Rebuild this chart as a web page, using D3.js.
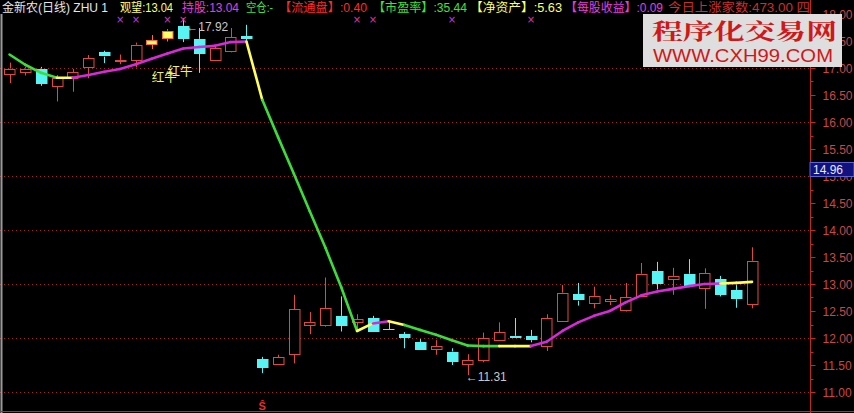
<!DOCTYPE html>
<html><head><meta charset="utf-8">
<script src="https://cdn.jsdelivr.net/npm/d3@7"></script>
<style>body{margin:0;background:#000;overflow:hidden}svg{display:block}</style>
</head><body>
<script>
// ---------- data ----------
const openP  = [16.90,16.93,16.99,16.67,16.81,17.02,17.29,17.14,17.16,17.44,17.56,17.78,17.54,17.15,17.31,17.59,
                11.61,11.51,11.70,12.25,12.23,12.41,12.30,12.37,12.16,12.07,11.92,11.79,11.75,11.51,11.59,11.97,
                12.04,12.04,11.85,12.33,12.81,12.65,12.69,12.51,12.78,13.24,13.09,13.19,12.92,13.09,12.89,12.64];
const highP  = [17.10,17.02,17.02,16.87,16.98,17.24,17.32,17.25,17.47,17.61,17.72,17.92,17.74,17.40,17.74,17.80,
                11.65,11.69,12.80,12.48,13.12,12.77,12.44,12.41,12.30,12.11,11.98,11.96,11.81,11.70,12.10,12.29,
                12.37,12.15,12.44,12.98,13.02,12.95,12.80,13.02,13.39,13.41,13.30,13.46,13.29,13.15,12.98,13.68];
const lowP   = [16.72,16.86,16.67,16.38,16.56,16.81,17.09,17.07,17.01,17.35,17.49,17.48,16.91,17.13,17.29,17.48,
                11.35,11.51,11.53,12.07,12.21,12.12,12.14,12.12,12.14,11.81,11.78,11.69,11.50,11.31,11.55,11.96,
                12.00,11.92,11.76,12.32,12.60,12.55,12.61,12.49,12.76,12.90,12.80,12.96,12.54,12.77,12.56,12.55];
const closeP = [16.99,16.99,16.72,16.81,16.92,17.18,17.21,17.15,17.43,17.51,17.69,17.54,17.26,17.37,17.57,17.54,
                11.45,11.64,12.53,12.30,12.55,12.23,12.35,12.12,12.14,12.00,11.78,11.85,11.56,11.59,12.00,12.11,
                12.00,11.96,12.37,12.84,12.69,12.78,12.72,12.75,13.19,13.00,13.15,12.96,13.20,12.80,12.72,13.43];
const zhu    = [17.25,17.06,16.91,16.82,16.82,16.87,16.93,16.98,17.07,17.17,17.27,17.36,17.39,17.41,17.48,17.49,
                16.41,15.72,15.04,14.35,13.67,12.94,12.13,
                12.27,12.31,12.24,12.15,12.06,11.96,11.86,11.85,11.85,11.85,11.85,
                11.93,12.13,12.29,12.41,12.50,12.66,12.79,12.86,12.91,12.96,13.00,13.01,13.02,13.04];
// state of the ZHU line for each segment ending at index i (G = 空仓, Y = 观望, M = 持股)
const zhuState = ["-","G","G","G","Y","M","M","M","M","M","M","M","M","M","M","M",
                  "Y","G","G","G","G","G","G","Y","M","Y","G","G","G","G","G","G",
                  "Y","Y","M","M","M","M","M","M","M","M","M","M","M","M","Y","Y"];
const signalCandles = [9,10];
const crossMarks = [7,8,10,11,22,23,28,33];
const hongNiuIdx = [9,10];
const hongNiuPrice = [16.75,16.86];
const dollarIdx = [16];
const yMajor = [11,11.5,12,12.5,13,13.5,14,14.5,15,15.5,16,16.5,17,17.5,18];
const yGrid = [11,12,13,14,15,16,17];
const highLabel = {idx:11, value:17.92};
const lowLabel = {idx:29, value:11.31};
const cursorPrice = 14.96;
const headerText = ["金新农(日线) ZHU 1","观望:13.04","持股:13.04","空仓:-","【流通盘】:0.40",
                    "【市盈率】:35.44","【净资产】:5.63","【每股收益】:0.09","今日上涨家数:473.00 四"];
const headerColor = ["#e6e6e6","#ffff66","#e040e0","#40e040","#ff2a2a","#40e040","#ffff66","#e040e0","#c83030"];

// ---------- drawing ----------
const W = 854, H = 413, AX = 810;
const svg = d3.select("body").append("svg").attr("width", W).attr("height", H)
  .style("background", "#000");

const idx = d3.range(openP.length);
const x = d3.scaleLinear().domain([0, 47]).range([9.5, 752]);
const y = d3.scaleLinear().domain([11, 17]).range([392, 68]);
const bw = 10.5;

const defs = svg.append("defs");
defs.append("clipPath").attr("id","plotclip")
  .append("rect").attr("x",0).attr("y",0).attr("width",AX).attr("height",H);

// grid
svg.append("g").selectAll("line").data(yGrid).join("line")
  .attr("x1", 0).attr("x2", AX)
  .attr("y1", d => Math.round(y(d)) + 0.5).attr("y2", d => Math.round(y(d)) + 0.5)
  .attr("stroke", "#a02828").attr("stroke-dasharray", "1,3");

// left border
svg.append("line").attr("x1",1.5).attr("x2",1.5).attr("y1",14).attr("y2",H)
  .attr("stroke","#9a9a9a").attr("stroke-width",2);

// candles
const red = "#e04848", cyan = "#58f4f4";
const cg = svg.append("g").attr("clip-path","url(#plotclip)");
idx.forEach(i => {
  const up = closeP[i] >= openP[i];
  const sig = signalCandles.includes(i);
  const col = sig ? "#ff6a3a" : (up ? red : cyan);
  const cx = Math.round(x(i)) + 0.5;
  const yt = y(Math.max(openP[i], closeP[i])), yb = y(Math.min(openP[i], closeP[i]));
  const g = cg.append("g");
  g.append("line").attr("x1", cx).attr("x2", cx).attr("y1", y(highP[i])).attr("y2", yt)
    .attr("stroke", col);
  g.append("line").attr("x1", cx).attr("x2", cx).attr("y1", yb).attr("y2", y(lowP[i]))
    .attr("stroke", col);
  const h = Math.max(1, yb - yt);
  if (up) {
    g.append("rect").attr("x", Math.round(x(i) - bw/2) + 0.5).attr("y", Math.round(yt) + 0.5)
      .attr("width", bw).attr("height", Math.max(0, Math.round(h)))
      .attr("fill", sig ? "#ffff66" : "#000").attr("stroke", col);
  } else {
    g.append("rect").attr("x", Math.round(x(i) - bw/2)).attr("y", Math.round(yt))
      .attr("width", bw + 1).attr("height", Math.max(1, Math.round(h)))
      .attr("fill", col);
  }
});

// ZHU line
const stateCol = {G:"#3cdc3c", Y:"#ffff5a", M:"#d82ad8"};
const lg = svg.append("g");
for (let i = 1; i < zhu.length; i++) {
  lg.append("line")
    .attr("x1", x(i-1)).attr("y1", y(zhu[i-1]))
    .attr("x2", x(i)).attr("y2", y(zhu[i]))
    .attr("stroke", stateCol[zhuState[i]]).attr("stroke-width", 2.6)
    .attr("stroke-linecap", "round");
}

// cross marks
svg.append("g").selectAll("text").data(crossMarks).join("text")
  .attr("x", d => x(d)).attr("y", 23).attr("text-anchor","middle")
  .attr("font-family","DejaVu Sans").attr("font-size",10).attr("fill","#c83cc8")
  .text("×");

// 红牛
svg.append("g").selectAll("text").data(hongNiuIdx).join("text")
  .attr("x", d => x(d)).attr("y", (d,k) => y(hongNiuPrice[k]))
  .attr("font-family","Noto Sans CJK SC").attr("font-size",12.5).attr("fill","#f0f070")
  .text("红牛");

// $ marker
svg.append("g").selectAll("text").data(dollarIdx).join("text")
  .attr("x", d => x(d)).attr("y", 410).attr("text-anchor","middle")
  .attr("font-family","Liberation Sans").attr("font-size",11).attr("font-weight","bold")
  .attr("fill","#e03030").text("Ŝ");

// high / low labels
svg.append("text").attr("x", x(highLabel.idx) + 3).attr("y", y(highLabel.value) + 13)
  .attr("font-family","Liberation Sans").attr("font-size",12).attr("fill","#c8c8c8")
  .text("←" + highLabel.value.toFixed(2));
svg.append("text").attr("x", x(lowLabel.idx) - 2).attr("y", y(lowLabel.value) + 6)
  .attr("font-family","Liberation Sans").attr("font-size",12).attr("fill","#c8c8c8")
  .text("←" + lowLabel.value.toFixed(2));

// y axis
const minor = d3.range(11, 18.01, 0.25);
const ax = svg.append("g").attr("transform", `translate(${AX + 0.5},0)`);
ax.append("line").attr("x1",0).attr("x2",0).attr("y1",0).attr("y2",H).attr("stroke","#c02828");
ax.selectAll("line.minor").data(minor).join("line").attr("class","minor")
  .attr("x1",0).attr("x2", d => yMajor.includes(d) ? 5 : 3)
  .attr("y1", d => Math.round(y(d)) + 0.5).attr("y2", d => Math.round(y(d)) + 0.5)
  .attr("stroke","#c02828");
ax.selectAll("text").data(yMajor).join("text")
  .attr("x", 12).attr("y", d => y(d) + 4.5)
  .attr("font-family","Liberation Sans, Arial").attr("font-size",12).attr("fill","#c84848")
  .text(d => d3.format(".2f")(d));

// bottom line
svg.append("line").attr("x1",0).attr("x2",W).attr("y1",411.5).attr("y2",411.5)
  .attr("stroke","#c02828");

// cursor price box
svg.append("rect").attr("x", AX).attr("y", Math.round(y(cursorPrice)) - 15.5).attr("width", W - AX)
  .attr("height", 14).attr("fill","#12127e").attr("stroke","#6060d0");
svg.append("text").attr("x", AX + 3).attr("y", y(cursorPrice) - 4)
  .attr("font-family","Liberation Sans, Arial").attr("font-size",12).attr("fill","#e8e8ff")
  .text(cursorPrice.toFixed(2));

// header
defs.append("clipPath").attr("id","hclip")
  .append("rect").attr("x",0).attr("y",0).attr("width",AX).attr("height",16);
const hg = svg.append("g").attr("clip-path","url(#hclip)");
const hx = [2,120,182,246,279,373,470,565,668];
const hw = [106,53,57,27,88,94,92,98,142];
headerText.forEach((t, k) => {
  hg.append("text").attr("x", hx[k]).attr("y", 12)
    .attr("font-family","Liberation Sans, Noto Sans CJK SC").attr("font-size",12)
    .attr("textLength", hw[k]).attr("lengthAdjust","spacingAndGlyphs")
    .attr("fill", headerColor[k]).text(t);
});

// watermark
const wm = svg.append("g");
wm.append("rect").attr("x",643).attr("y",14).attr("width",199).attr("height",53).attr("fill","#dedede");
wm.append("text").attr("x",652).attr("y",39).attr("textLength",185).attr("lengthAdjust","spacingAndGlyphs")
  .attr("font-family","Noto Serif CJK SC, Noto Sans CJK SC").attr("font-weight","bold").attr("font-size",22)
  .attr("fill","#d01818").text("程序化交易网");
wm.append("text").attr("x",653).attr("y",62).attr("textLength",180).attr("lengthAdjust","spacingAndGlyphs")
  .attr("font-family","Liberation Sans Narrow, Liberation Sans").attr("font-size",19)
  .attr("fill","#d01818").text("WWW.CXH99.COM");
</script>
</body></html>
